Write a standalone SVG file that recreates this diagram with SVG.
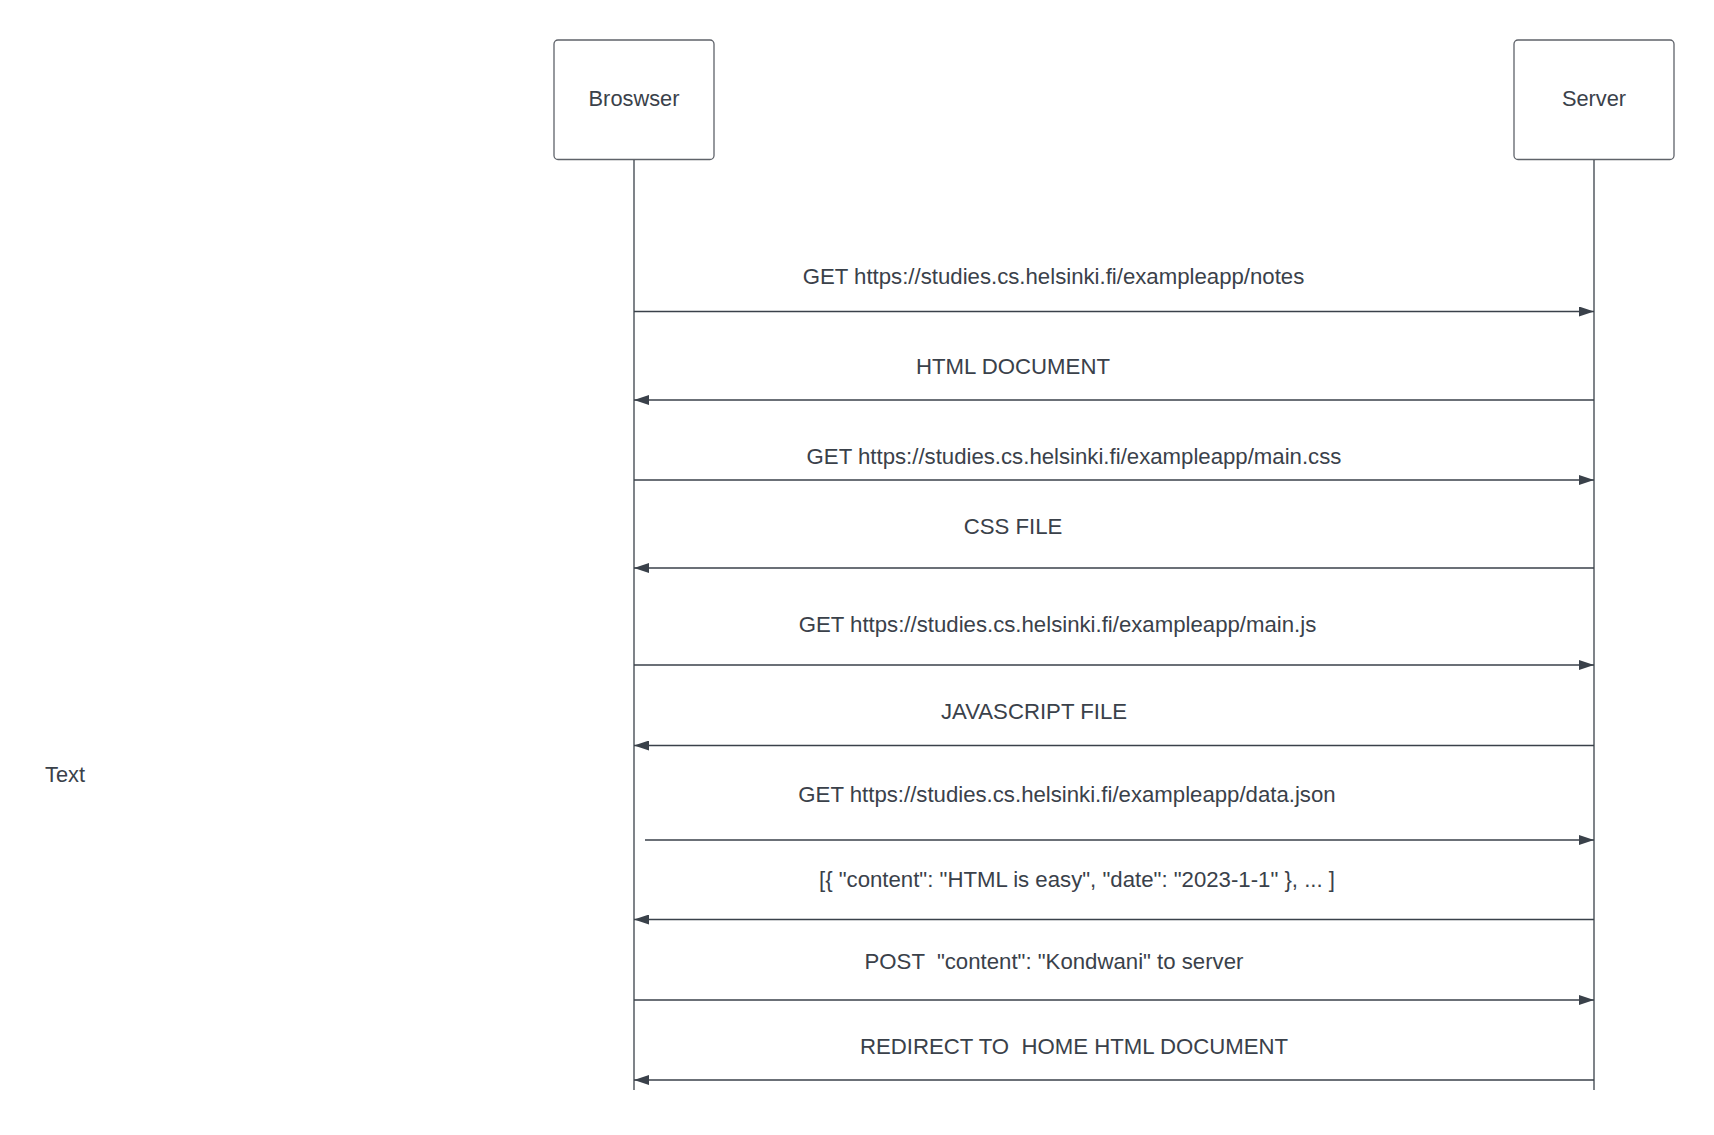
<svg xmlns="http://www.w3.org/2000/svg" width="1714" height="1135" viewBox="0 0 1714 1135">
<style>
.box{fill:#ffffff;stroke:#5f636a;stroke-width:1.3}
.life{stroke:#3a414a;stroke-width:1.3;fill:none}
.msg{stroke:#3a414a;stroke-width:1.3;fill:none}
.t{font-family:"Liberation Sans",Arial,sans-serif;font-size:22.2px;fill:#3a414a;text-anchor:middle}
.n{font-family:"Liberation Sans",Arial,sans-serif;font-size:21.8px;fill:#3a414a;text-anchor:middle}
</style>
<defs>
<marker id="ah" viewBox="0 0 15 10" refX="15" refY="5" markerWidth="15" markerHeight="10" markerUnits="userSpaceOnUse" orient="auto">
<path d="M0,0 L15,5 L0,10 Z" fill="#3a414a"/>
</marker>
</defs>
<rect width="1714" height="1135" fill="#ffffff"/>
<g id="browser">
<rect class="box" x="554" y="40" width="160" height="119.5" rx="4"/>
<text class="n" x="634" y="105.5">Broswser</text>
</g>
<g id="server">
<rect class="box" x="1514" y="40" width="160" height="119.5" rx="4"/>
<text class="n" x="1594" y="105.5">Server</text>
</g>
<g id="lifelines">
<line class="life" x1="634" y1="160" x2="634" y2="1090"/>
<line class="life" x1="1594" y1="160" x2="1594" y2="1090"/>
</g>
<g id="connectors">
<line class="msg" x1="634" y1="311.5" x2="1594" y2="311.5" marker-end="url(#ah)"/>
<line class="msg" x1="1594" y1="400" x2="634" y2="400" marker-end="url(#ah)"/>
<line class="msg" x1="634" y1="480" x2="1594" y2="480" marker-end="url(#ah)"/>
<line class="msg" x1="1594" y1="568" x2="634" y2="568" marker-end="url(#ah)"/>
<line class="msg" x1="634" y1="665" x2="1594" y2="665" marker-end="url(#ah)"/>
<line class="msg" x1="1594" y1="745.5" x2="634" y2="745.5" marker-end="url(#ah)"/>
<line class="msg" x1="645" y1="840" x2="1594" y2="840" marker-end="url(#ah)"/>
<line class="msg" x1="1594" y1="919.5" x2="634" y2="919.5" marker-end="url(#ah)"/>
<line class="msg" x1="634" y1="1000" x2="1594" y2="1000" marker-end="url(#ah)"/>
<line class="msg" x1="1594" y1="1080" x2="634" y2="1080" marker-end="url(#ah)"/>
</g>
<g id="labels">
<text class="t" x="1053.5" y="284">GET https://studies.cs.helsinki.fi/exampleapp/notes</text>
<text class="t" x="1013" y="374">HTML DOCUMENT</text>
<text class="t" x="1074" y="464">GET https://studies.cs.helsinki.fi/exampleapp/main.css</text>
<text class="t" x="1013" y="534">CSS FILE</text>
<text class="t" x="1057.5" y="632">GET https://studies.cs.helsinki.fi/exampleapp/main.js</text>
<text class="t" x="1034" y="719">JAVASCRIPT FILE</text>
<text class="t" x="1067" y="802">GET https://studies.cs.helsinki.fi/exampleapp/data.json</text>
<text class="t" x="1077" y="887">[{ "content": "HTML is easy", "date": "2023-1-1" }, ... ]</text>
<text class="t" x="1054" y="969" xml:space="preserve">POST  "content": "Kondwani" to server</text>
<text class="t" x="1074" y="1054" xml:space="preserve">REDIRECT TO  HOME HTML DOCUMENT</text>
</g>
<g id="text-node">
<text x="45" y="782" font-family="Liberation Sans, Arial, sans-serif" font-size="21.8px" fill="#3a414a">Text</text>
</g>
</svg>
